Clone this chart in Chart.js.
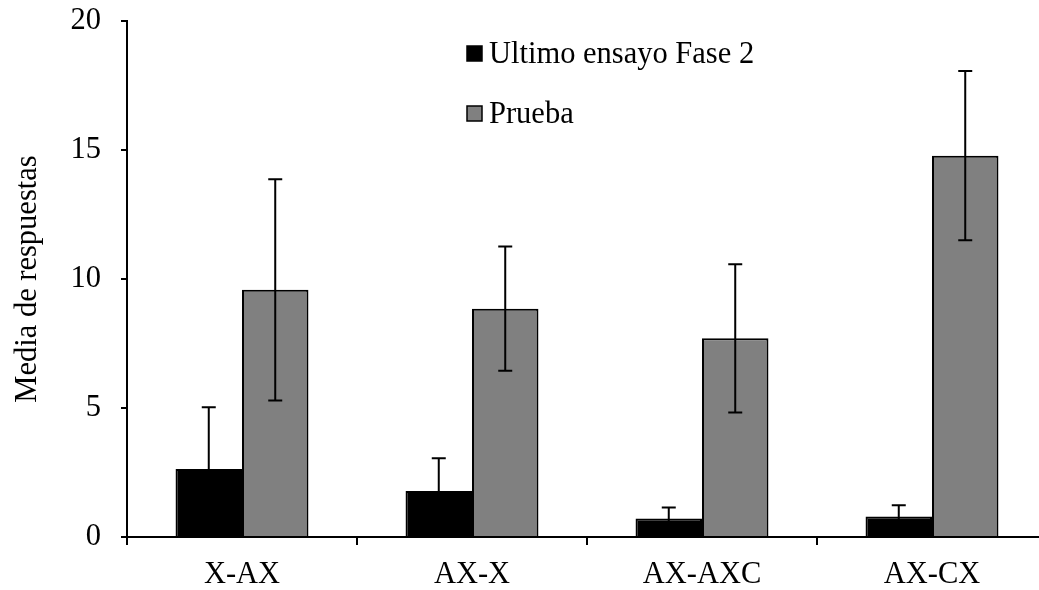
<!DOCTYPE html>
<html>
<head>
<meta charset="utf-8">
<script src="https://cdn.jsdelivr.net/npm/chart.js@4/dist/chart.umd.min.js"></script>
<style>
  html, body { margin: 0; padding: 0; background: #fff; overflow: hidden; }
  #wrap { width: 1039px; height: 590px; overflow: hidden; }
</style>
</head>
<body>
<div id="wrap"><canvas id="chart" width="1050" height="590"></canvas></div>
<script>
// chart data
const categories = ['X-AX', 'AX-X', 'AX-AXC', 'AX-CX'];
const faseLabel = 'Ultimo ensayo Fase 2';
const faseValues = [2.64, 1.78, 0.72, 0.79];
const faseErrors = [2.39, 1.27, 0.42, 0.44];
const pruebaLabel = 'Prueba';
const pruebaValues = [9.58, 8.85, 7.70, 14.78];
const pruebaErrors = [4.29, 2.41, 2.87, 3.28];
const yTicks = [0, 5, 10, 15, 20];

const serif = "'Liberation Serif', 'Times New Roman', serif";
const fontSize = 30.5;

// error bars drawn through the y scale
const errorBars = {
  id: 'errorBars',
  afterDatasetsDraw(chart) {
    const ctx = chart.ctx;
    const y = chart.scales.y;
    ctx.save();
    ctx.strokeStyle = '#000';
    ctx.lineWidth = 2;
    chart.data.datasets.forEach((ds, i) => {
      const meta = chart.getDatasetMeta(i);
      meta.data.forEach((bar, j) => {
        const v = ds.data[j], e = ds.errors[j];
        const top = y.getPixelForValue(v + e);
        const bot = y.getPixelForValue(v - e);
        const x = bar.x;
        ctx.beginPath();
        ctx.moveTo(x, top); ctx.lineTo(x, bot);
        ctx.moveTo(x - 7, top); ctx.lineTo(x + 7, top);
        ctx.moveTo(x - 7, bot); ctx.lineTo(x + 7, bot);
        ctx.stroke();
      });
    });
    ctx.restore();
  }
};

// legend stacked inside the plot
const innerLegend = {
  id: 'innerLegend',
  afterDraw(chart) {
    const ctx = chart.ctx;
    ctx.save();
    ctx.font = fontSize + 'px ' + serif;
    ctx.textBaseline = 'middle';
    chart.data.datasets.forEach((ds, i) => {
      const cy = 54 + i * 60;
      ctx.fillStyle = ds.backgroundColor;
      ctx.fillRect(467, cy - 8, 15, 15);
      ctx.strokeStyle = '#000';
      ctx.lineWidth = 1.5;
      ctx.strokeRect(467, cy - 8, 15, 15);
      ctx.fillStyle = '#000';
      ctx.fillText(ds.label, 489, cy + 1);
    });
    ctx.restore();
  }
};

const ctx = document.getElementById('chart').getContext('2d');
new Chart(ctx, {
  type: 'bar',
  data: {
    labels: categories,
    datasets: [
      {
        label: faseLabel,
        data: faseValues,
        errors: faseErrors,
        backgroundColor: '#000000',
        borderColor: '#000000',
        borderWidth: 2,
        categoryPercentage: 0.578,
        barPercentage: 1.0
      },
      {
        label: pruebaLabel,
        data: pruebaValues,
        errors: pruebaErrors,
        backgroundColor: '#808080',
        borderColor: '#000000',
        borderWidth: 2,
        categoryPercentage: 0.578,
        barPercentage: 1.0
      }
    ]
  },
  options: {
    responsive: false,
    animation: false,
    layout: { padding: { top: 21, right: 3, left: 0, bottom: 0 } },
    plugins: {
      legend: { display: false },
      tooltip: { enabled: false }
    },
    scales: {
      x: {
        grid: {
          offset: true,
          drawOnChartArea: false,
          drawTicks: true,
          tickLength: 8,
          color: '#000',
          lineWidth: 2
        },
        border: { display: true, color: '#000', width: 2 },
        ticks: {
          color: '#000',
          font: { family: serif, size: fontSize },
          padding: 12
        },
        afterFit(scale) {
          scale.height = 53;
          scale.paddingLeft = 0;
          scale.paddingRight = 0;
        }
      },
      y: {
        min: 0,
        max: 20,
        afterBuildTicks(scale) { scale.ticks = yTicks.map(v => ({ value: v })); },
        grid: {
          drawOnChartArea: false,
          drawTicks: true,
          tickLength: 6,
          color: '#000',
          lineWidth: 2
        },
        border: { display: true, color: '#000', width: 2 },
        ticks: {
          color: '#000',
          font: { family: serif, size: fontSize },
          padding: 20
        },
        title: {
          display: true,
          text: 'Media de respuestas',
          color: '#000',
          font: { family: serif, size: fontSize },
          padding: { top: 10, bottom: 0 }
        },
        afterFit(scale) {
          scale.width = 127;
          scale.paddingTop = 0;
          scale.paddingBottom = 0;
        }
      }
    }
  },
  plugins: [errorBars, innerLegend]
});
</script>
</body>
</html>
